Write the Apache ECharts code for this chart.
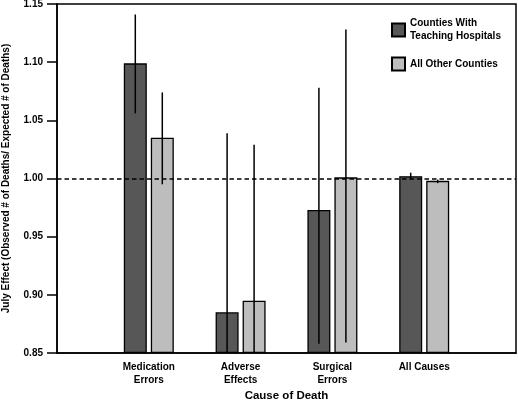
<!DOCTYPE html>
<html>
<head>
<meta charset="utf-8">
<script src="https://cdn.jsdelivr.net/npm/echarts@6/dist/echarts.min.js"></script>
<style>html,body{margin:0;padding:0;background:#fff}#c{width:518px;height:400px}</style>
</head>
<body>
<div id="c"></div>
<script>
var categories = ['', 'Medication\nErrors', 'Adverse\nEffects', 'Surgical\nErrors', 'All Causes', ''];
var seriesNames = ['Counties With\nTeaching Hospitals', 'All Other Counties'];
var teaching = [null, 1.099, 0.885, 0.973, 1.002, null];
var teachingLow = [null, 1.056, 0.76, 0.858, 0.999, null];
var teachingHigh = [null, 1.141, 1.039, 1.078, 1.005, null];
var other = [null, 1.035, 0.895, 1.001, 0.998, null];
var otherLow = [null, 0.995, 0.76, 0.859, 0.996, null];
var otherHigh = [null, 1.074, 1.029, 1.128, 0.999, null];
var yTicks = [0.85, 0.90, 0.95, 1.00, 1.05, 1.10, 1.15];
var refValue = 1.00;

var FONT = '"Liberation Sans", Arial, sans-serif';
var BAR_W = 23, BAR_GAP = 4;
var OFFSET = (BAR_W + BAR_GAP) / 2;

function errData(low, high) {
  var d = [];
  for (var i = 0; i < low.length; i++) {
    if (low[i] != null) d.push([i, low[i], high[i]]);
  }
  return d;
}
function errSeries(low, high, dir) {
  return {
    type: 'custom',
    clip: true,
    silent: true,
    z: 5,
    data: errData(low, high),
    renderItem: function (params, api) {
      var a = api.coord([api.value(0), api.value(1)]);
      var b = api.coord([api.value(0), api.value(2)]);
      var x = a[0] + dir * OFFSET;
      return {
        type: 'line',
        shape: { x1: x, y1: a[1], x2: x, y2: b[1] },
        style: { stroke: '#000', lineWidth: 1.5 }
      };
    }
  };
}

var chart = echarts.init(document.getElementById('c'), null, { renderer: 'canvas' });
chart.setOption({
  animation: false,
  backgroundColor: '#fff',
  textStyle: { fontFamily: FONT },
  grid: { left: 57, right: 2, top: 4, bottom: 47, containLabel: false, outerBoundsMode: 'none',
    show: true, borderColor: '#000', borderWidth: 1.5, backgroundColor: 'transparent' },
  legend: {
    orient: 'vertical',
    left: 386, top: 12,
    padding: 5,
    icon: 'rect',
    itemWidth: 13, itemHeight: 13,
    itemGap: 13.5,
    selectedMode: false,
    data: seriesNames,
    textStyle: { fontFamily: FONT, fontSize: 10, fontWeight: 'bold', color: '#000', lineHeight: 13 }
  },
  xAxis: {
    type: 'category',
    data: categories,
    boundaryGap: false,
    axisLine: { lineStyle: { color: '#000', width: 1.5 } },
    axisTick: { show: false },
    axisLabel: { fontFamily: FONT, fontSize: 10, fontWeight: 'bold', color: '#000', lineHeight: 13, margin: 8, interval: 0 },
    name: 'Cause of Death',
    nameLocation: 'middle',
    nameMoveOverlap: false,
    nameGap: 37,
    nameTextStyle: { fontFamily: FONT, fontSize: 11.5, fontWeight: 'bold', color: '#000' }
  },
  yAxis: {
    type: 'value',
    min: yTicks[0], max: yTicks[yTicks.length - 1], interval: 0.05,
    startValue: yTicks[0],
    splitLine: { show: false },
    axisLine: { show: true, lineStyle: { color: '#000', width: 1.5 } },
    axisTick: { show: true, length: 10, lineStyle: { color: '#000', width: 1.5 } },
    axisLabel: { fontFamily: FONT, fontSize: 10, fontWeight: 'bold', color: '#000', margin: 14,
      formatter: function (v) { return v.toFixed(2); } },
    name: 'July Effect (Observed # of Deaths/ Expected # of Deaths)',
    nameLocation: 'middle',
    nameMoveOverlap: false,
    nameGap: 46,
    nameTextStyle: { fontFamily: FONT, fontSize: 10, fontWeight: 'bold', color: '#000' }
  },
  series: [
    {
      name: seriesNames[0], type: 'bar', data: teaching, barWidth: BAR_W, barGap: (BAR_GAP / BAR_W * 100) + '%',
      itemStyle: { color: '#575757', borderColor: '#000', borderWidth: 1.3 },
      markLine: {
        silent: true, symbol: 'none', label: { show: false },
        lineStyle: { color: '#000', type: [4.5, 3], width: 1.5 },
        data: [{ yAxis: refValue }]
      }
    },
    {
      name: seriesNames[1], type: 'bar', data: other, barWidth: BAR_W,
      itemStyle: { color: '#bdbdbd', borderColor: '#000', borderWidth: 1.3 }
    },
    errSeries(teachingLow, teachingHigh, -1),
    errSeries(otherLow, otherHigh, 1)
  ]
});
</script>
</body>
</html>
